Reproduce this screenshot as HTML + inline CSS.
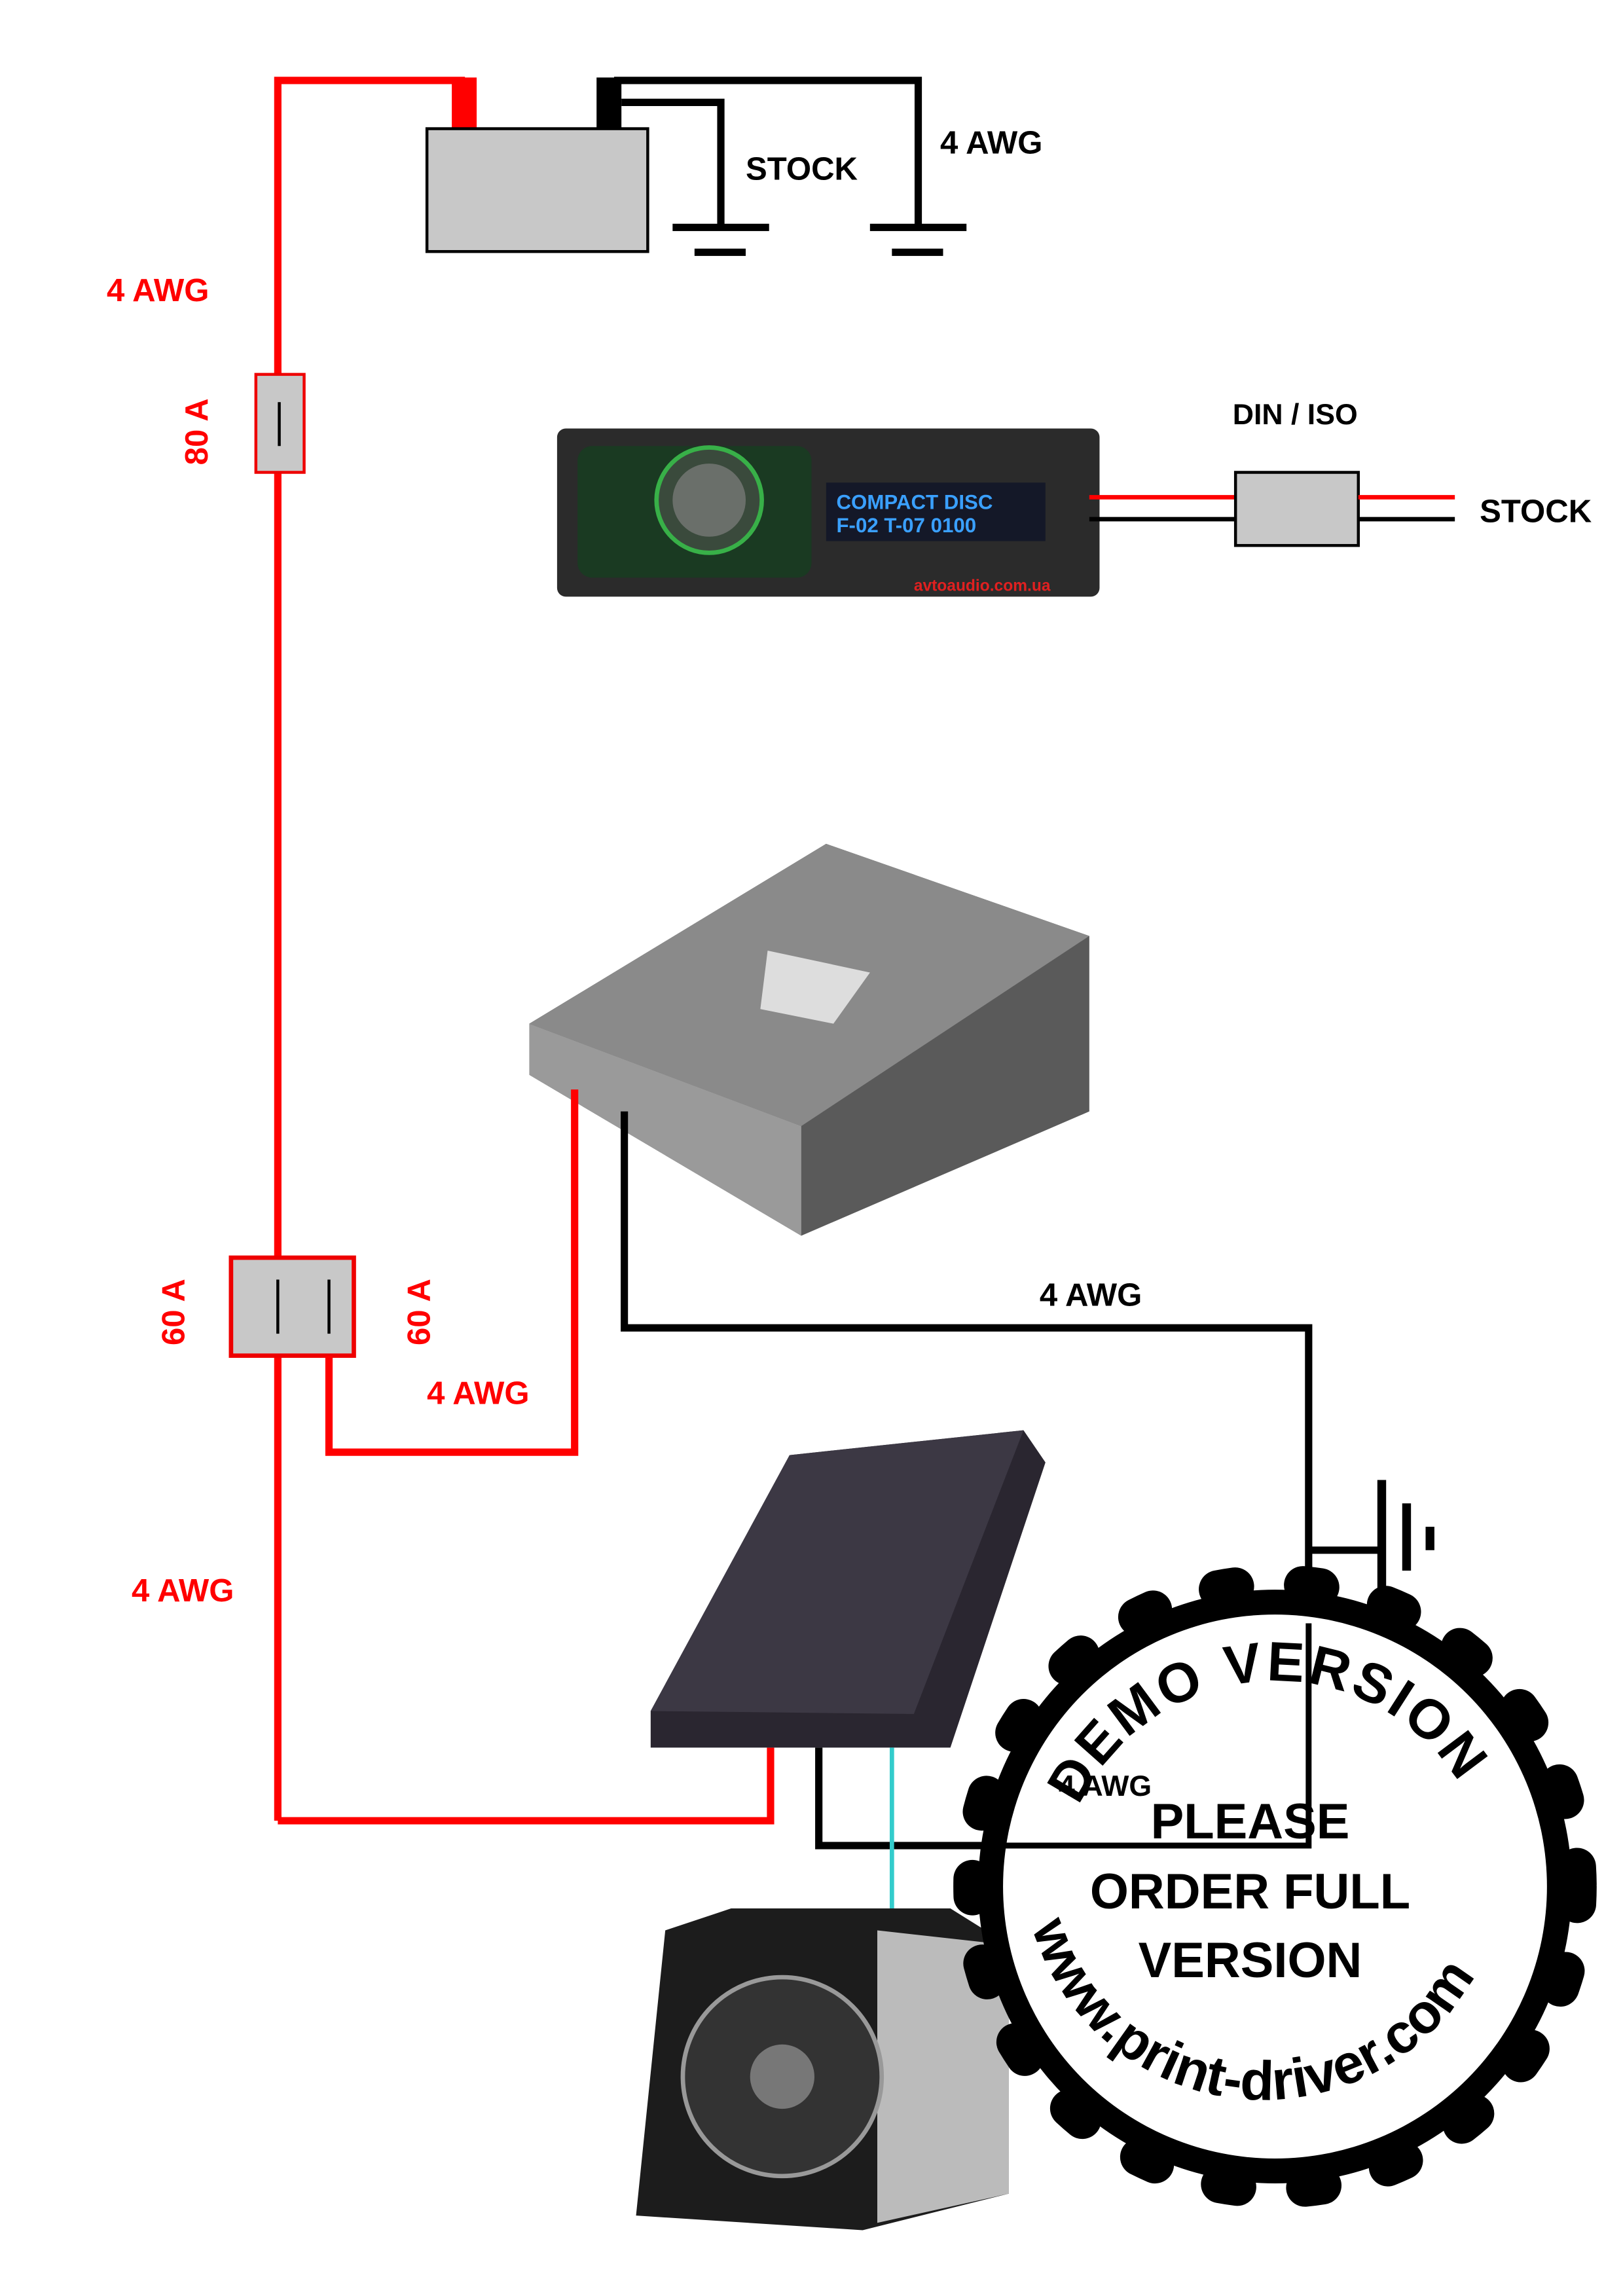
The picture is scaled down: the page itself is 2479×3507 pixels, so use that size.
<!DOCTYPE html>
<html><head><meta charset="utf-8"><style>
html,body{margin:0;padding:0;background:#fff;}
svg{display:block;}
text{font-family:"Liberation Sans",sans-serif;font-weight:bold;}
</style></head><body>
<svg width="2479" height="3507" viewBox="0 0 1110 1570" preserveAspectRatio="none" xmlns="http://www.w3.org/2000/svg">
<rect width="1110" height="1570" fill="#fff"/>
<g fill="none" stroke-linejoin="miter">
<polyline points="190,1245 190,55 318,55" stroke="#f00" stroke-width="5"/>
<rect x="309" y="53" width="17" height="37" fill="#f00" stroke="none"/>
<rect x="408" y="53" width="17" height="37" fill="#000" stroke="none"/>
<polyline points="420,55 628,55 628,155" stroke="#000" stroke-width="5"/>
<polyline points="425,70 493,70 493,155" stroke="#000" stroke-width="5"/>
</g>
<rect x="292" y="88" width="151" height="84" fill="#c8c8c8" stroke="#000" stroke-width="2"/>
<rect x="460" y="153" width="66" height="5"/><rect x="475" y="170" width="35" height="5"/>
<rect x="595" y="153" width="66" height="5"/><rect x="610" y="170" width="35" height="5"/>
<text x="510" y="123" font-size="22">STOCK</text>
<text x="643" y="105" font-size="22">4 AWG</text>
<text x="73" y="206" font-size="22" fill="#f00">4 AWG</text>
<rect x="175" y="256" width="33" height="67" fill="#c8c8c8" stroke="#e00" stroke-width="2"/>
<line x1="191" y1="275" x2="191" y2="305" stroke="#000" stroke-width="2"/>
<text transform="translate(142,318) rotate(-90)" font-size="22" fill="#f00">80 A</text>
<rect x="381" y="293" width="371" height="115" rx="6" fill="#2b2b2b"/>
<rect x="395" y="305" width="160" height="90" rx="10" fill="#1a3a22"/>
<circle cx="485" cy="342" r="36" fill="#3a4a3c" stroke="#38b048" stroke-width="3"/>
<circle cx="485" cy="342" r="25" fill="#6a6f6a"/>
<rect x="565" y="330" width="150" height="40" fill="#141828"/>
<text x="572" y="348" font-size="14" fill="#3aa0ff" font-weight="normal">COMPACT DISC</text>
<text x="572" y="364" font-size="14" fill="#3aa0ff" font-weight="normal">F-02 T-07  0100</text>
<text x="625" y="404" font-size="11" fill="#e02020" font-weight="normal">avtoaudio.com.ua</text>
<line x1="745" y1="340" x2="845" y2="340" stroke="#f00" stroke-width="3"/>
<line x1="745" y1="355" x2="845" y2="355" stroke="#000" stroke-width="3"/>
<rect x="845" y="323" width="84" height="50" fill="#c8c8c8" stroke="#000" stroke-width="2"/>
<line x1="929" y1="340" x2="995" y2="340" stroke="#f00" stroke-width="3"/>
<line x1="929" y1="355" x2="995" y2="355" stroke="#000" stroke-width="3"/>
<text x="843" y="290" font-size="20">DIN / ISO</text>
<text x="1012" y="357" font-size="22">STOCK</text>
<polygon points="362,700 565,577 745,640 745,760 548,845 362,735" fill="#5a5a5a"/>
<polygon points="362,700 565,577 745,640 548,770" fill="#8a8a8a"/>
<polygon points="362,700 548,770 548,845 362,735" fill="#9a9a9a"/>
<polygon points="525,650 595,665 570,700 520,690" fill="#ddd"/>
<rect x="158" y="860" width="84" height="67" fill="#c8c8c8" stroke="#e00" stroke-width="3"/>
<line x1="190" y1="875" x2="190" y2="912" stroke="#000" stroke-width="2"/>
<line x1="225" y1="875" x2="225" y2="912" stroke="#000" stroke-width="2"/>
<text transform="translate(126,920) rotate(-90)" font-size="22" fill="#f00">60 A</text>
<text transform="translate(294,920) rotate(-90)" font-size="22" fill="#f00">60 A</text>
<polyline points="225,927 225,993 393,993 393,745" fill="none" stroke="#f00" stroke-width="5"/>
<text x="292" y="960" font-size="22" fill="#f00">4 AWG</text>
<polyline points="427,760 427,908 895,908 895,1262 560,1262 560,1195" fill="none" stroke="#000" stroke-width="5"/>
<text x="711" y="893" font-size="22">4 AWG</text>
<line x1="895" y1="1060" x2="945" y2="1060" stroke="#000" stroke-width="5"/>
<rect x="942" y="1012" width="6" height="78"/><rect x="959" y="1028" width="6" height="46"/><rect x="975" y="1044" width="6" height="16"/>
<text x="90" y="1095" font-size="22" fill="#f00">4 AWG</text>
<polyline points="190,1245 527,1245 527,1195" fill="none" stroke="#f00" stroke-width="5"/>
<polygon points="445,1170 540,995 700,978 715,1000 650,1195 445,1195" fill="#2a2630"/>
<polygon points="445,1170 540,995 700,978 625,1172" fill="#3c3844"/>
<line x1="610" y1="1195" x2="610" y2="1310" stroke="#3cc" stroke-width="3"/>
<polygon points="455,1320 500,1305 650,1305 690,1330 690,1500 590,1525 435,1515" fill="#1c1c1c"/>
<polygon points="600,1320 690,1330 690,1500 600,1520" fill="#bbb"/>
<circle cx="535" cy="1420" r="68" fill="#333" stroke="#999" stroke-width="3"/>
<circle cx="535" cy="1420" r="22" fill="#777"/>
<!-- stamp -->
<circle cx="872" cy="1290" r="207" fill="none" stroke="#000" stroke-width="26" stroke-dasharray="12 46.5" stroke-linecap="round"/>
<circle cx="872" cy="1290" r="203" fill="#000"/>
<circle cx="872" cy="1290" r="186" fill="#fff"/>
<polyline points="895,1110 895,1262 680,1262" fill="none" stroke="#000" stroke-width="4"/>
<defs>
<path id="arcTop" d="M 738,1235 A 148,148 0 0 1 1005,1232"/>
<path id="arcBot" d="M 706,1318 A 165,165 0 0 0 1020,1325"/>
</defs>
<text font-size="38" fill="#000" letter-spacing="2"><textPath href="#arcTop">DEMO VERSION</textPath></text>
<text font-size="38" fill="#000"><textPath href="#arcBot">www.print-driver.com</textPath></text>
<text x="724" y="1228" font-size="20">4 AWG</text>
<text x="855" y="1257" font-size="34" text-anchor="middle">PLEASE</text>
<text x="855" y="1305" font-size="34" text-anchor="middle">ORDER FULL</text>
<text x="855" y="1352" font-size="34" text-anchor="middle">VERSION</text>
</svg>
</body></html>
